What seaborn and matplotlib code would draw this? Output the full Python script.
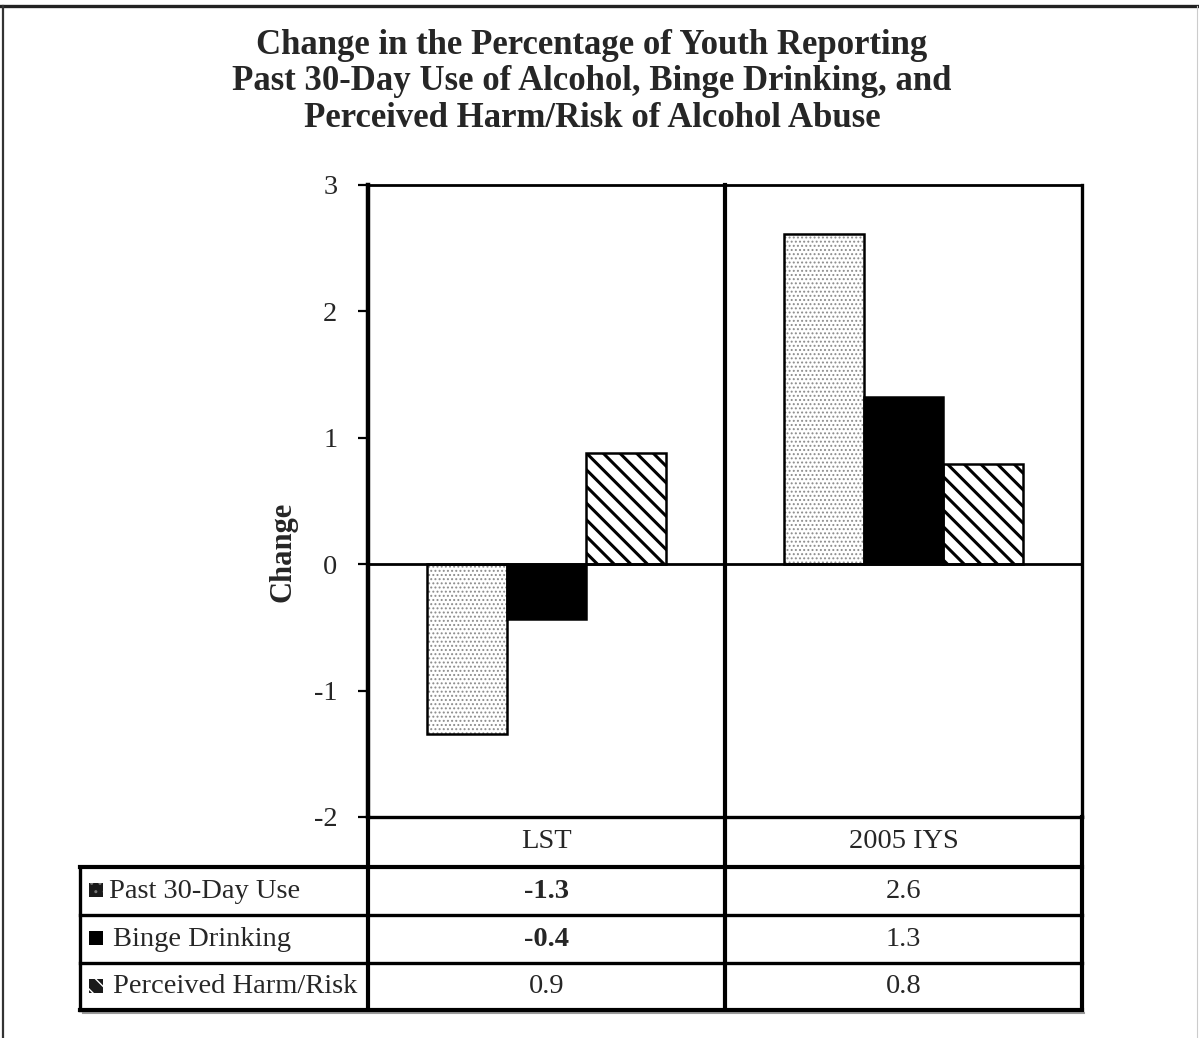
import matplotlib
matplotlib.use("Agg")
import matplotlib.pyplot as plt
from matplotlib.patches import Rectangle
import pandas as pd
import seaborn as sns

# ---- data ----
groups = ["LST", "2005 IYS"]
measures = ["Past 30-Day Use", "Binge Drinking", "Perceived Harm/Risk"]
past_30_day = [-1.34, 2.61]
binge_drinking = [-0.43, 1.32]
perceived_harm = [0.88, 0.79]
bold_values = {("LST", "Past 30-Day Use"), ("LST", "Binge Drinking")}
y_ticks = [-2, -1, 0, 1, 2, 3]
title = ("Change in the Percentage of Youth Reporting\n"
         "Past 30-Day Use of Alcohol, Binge Drinking, and\n"
         "Perceived Harm/Risk of Alcohol Abuse")

series = {"Past 30-Day Use": past_30_day,
          "Binge Drinking": binge_drinking,
          "Perceived Harm/Risk": perceived_harm}
df = pd.DataFrame([{"group": g, "measure": m, "change": series[m][i]}
                   for m in measures for i, g in enumerate(groups)])

sns.set_theme(style="white")
plt.rcParams["font.family"] = ["Liberation Serif", "DejaVu Serif"]
plt.rcParams["hatch.linewidth"] = 1.0

W, H = 1199, 1038
fig = plt.figure(figsize=(W / 100, H / 100), dpi=100)
fig.patch.set_facecolor("white")


def fx(px):
    return px / W


def fy(py):
    return 1 - py / H


# plot area in pixel units
AX_L, AX_R, AX_T, AX_B = 368, 1082, 185, 817
ax = fig.add_axes([fx(AX_L), fy(AX_B), (AX_R - AX_L) / W, (AX_B - AX_T) / H])

sns.barplot(data=df, x="group", y="change", hue="measure", order=groups,
            hue_order=measures, width=0.67, dodge=True, ax=ax, legend=False,
            saturation=1, palette=["white", "black", "white"], errorbar=None)

styles = [
    dict(face="white", edge="#8c8c8c", hatch="....", hlw=0.9),
    dict(face="black", edge="black", hatch=None, hlw=1.0),
    dict(face="white", edge="black", hatch="\\\\", hlw=2.2),
]
for container, st in zip(ax.containers, styles):
    for bar in container:
        bar.set_facecolor(st["face"])
        bar.set_edgecolor(st["edge"])
        bar.set_linewidth(0)
        if st["hatch"]:
            bar.set_hatch(st["hatch"])
            if hasattr(bar, "set_hatch_linewidth"):
                bar.set_hatch_linewidth(st["hlw"])
        ax.add_patch(Rectangle(bar.get_xy(), bar.get_width(), bar.get_height(),
                               fill=False, edgecolor="black", linewidth=1.8,
                               zorder=bar.get_zorder() + 0.1))

ax.set_xlim(-0.5, 1.5)
ax.set_ylim(-2, 3)
ax.set_yticks(y_ticks)
ax.set_yticklabels([str(t) for t in y_ticks], fontsize=20.5)
ax.set_xticks([])
ax.set_xlabel("")
ax.axhline(0, color="black", linewidth=2, zorder=5)
ax.tick_params(axis="y", direction="out", length=7, width=1.6, color="black",
               left=True, pad=15)
for side, lw in [("left", 3.2), ("top", 2.0), ("bottom", 2.4), ("right", 2.4)]:
    ax.spines[side].set_visible(True)
    ax.spines[side].set_color("black")
    ax.spines[side].set_linewidth(lw)
ax.set_ylabel("Change", fontsize=22, fontweight="bold")
ax.yaxis.set_label_coords(-0.099, 0.419)

# ---- overlay in pixel coordinates: frame, table, title ----
ov = fig.add_axes([0, 0, 1, 1], zorder=10)
ov.set_xlim(0, W)
ov.set_ylim(H, 0)
ov.axis("off")


def hline(y, x0, x1, lw=2.4, color="black"):
    ov.plot([x0, x1], [y, y], color=color, linewidth=lw, solid_capstyle="projecting")


def vline(x, y0, y1, lw=2.4, color="black"):
    ov.plot([x, x], [y0, y1], color=color, linewidth=lw, solid_capstyle="projecting")


# outer frame
hline(6, 0, W, lw=2.4, color="#222222")
vline(3, 6, H, lw=1.6, color="#333333")
vline(W - 2, 6, H, lw=0.8, color="#cccccc")

# table grid
TAB_L = 80
DIV = (AX_L + AX_R) / 2
rows_y = [867, 915, 963, 1010]
header_y = (AX_B + rows_y[0]) / 2
vline(DIV, AX_T, rows_y[-1], lw=3.0)
vline(AX_L, AX_B, rows_y[-1], lw=3.0)
vline(AX_R, AX_B, rows_y[-1], lw=3.0)
vline(TAB_L, rows_y[0], rows_y[-1], lw=2.4)
hline(rows_y[-1] + 3, TAB_L + 3, AX_R + 2, lw=1.5, color="#9a9a9a")
for i, y in enumerate(rows_y):
    hline(y, TAB_L, AX_R, lw=3.0 if i in (0, 3) else 2.4)

col_x = [(AX_L + DIV) / 2, (DIV + AX_R) / 2]
for g, cx in zip(groups, col_x):
    ov.text(cx, header_y, g, ha="center", va="center", fontsize=20.5)

key_styles = [
    dict(face="#1a1a1a", edge="#777777", hatch=".."),
    dict(face="black", edge="black", hatch=None),
    dict(face="#1a1a1a", edge="white", hatch="\\\\"),
]
for r, (m, ks) in enumerate(zip(measures, key_styles)):
    cy = (rows_y[r] + rows_y[r + 1]) / 2
    key = Rectangle((89, cy - 8), 14, 14, facecolor=ks["face"],
                    edgecolor=ks["edge"], linewidth=0)
    if ks["hatch"]:
        key.set_hatch(ks["hatch"])
        if hasattr(key, "set_hatch_linewidth"):
            key.set_hatch_linewidth(1.0)
    ov.add_patch(key)
    ov.text(109 if r == 0 else 113, cy, m, ha="left", va="center", fontsize=20.5)
    for i, (g, cx) in enumerate(zip(groups, col_x)):
        weight = "bold" if (g, m) in bold_values else "normal"
        ov.text(cx, cy, f"{series[m][i]:.1f}", ha="center", va="center",
                fontsize=20.5, fontweight=weight)

fig.text(fx(592), fy(82), title, ha="center", va="center", fontsize=25,
         fontweight="bold", linespacing=1.13)

fig.savefig("out.png", dpi=100, facecolor="white")
